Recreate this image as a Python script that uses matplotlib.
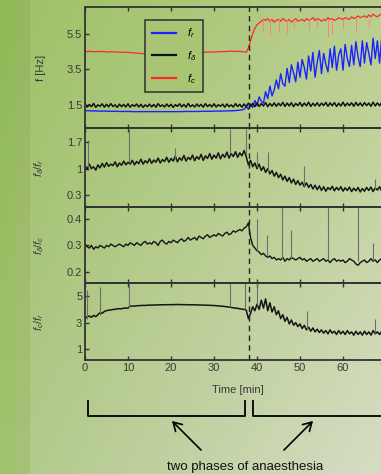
import numpy as np
import matplotlib
matplotlib.use("Agg")
import matplotlib.pyplot as plt
from matplotlib.lines import Line2D
from matplotlib.patches import FancyArrowPatch

plt.rcParams["font.family"] = ["Liberation Sans", "DejaVu Sans"]
plt.rcParams["mathtext.fontset"] = "custom"
plt.rcParams["mathtext.it"] = "Liberation Sans:italic"
plt.rcParams["mathtext.rm"] = "Liberation Sans"

# time grid, every 0.5 min
t = np.arange(0, 70, 0.5)
switch_time = 38.1

# panel 1: frequencies [Hz]
f_c = [4.50, 4.49, 4.51, 4.50, 4.48, 4.50, 4.49, 4.51, 4.50, 4.49,
       4.48, 4.47, 4.49, 4.48, 4.47, 4.46, 4.47, 4.46, 4.45, 4.46,
       4.45, 4.44, 4.43, 4.42, 4.41, 4.40, 4.39, 4.38, 4.37, 4.38,
       4.36, 4.35, 4.36, 4.34, 4.35, 4.33, 4.34, 4.35, 4.34, 4.36,
       4.35, 4.37, 4.36, 4.38, 4.39, 4.40, 4.41, 4.42, 4.41, 4.43,
       4.44, 4.43, 4.45, 4.44, 4.46, 4.45, 4.47, 4.46, 4.47, 4.48,
       4.47, 4.48, 4.49, 4.48, 4.50, 4.49, 4.51, 4.50, 4.52, 4.51,
       4.52, 4.50, 4.51, 4.49, 4.48, 4.45, 4.70, 5.10, 5.50, 5.80,
       6.00, 6.10, 6.20, 6.30, 6.25, 6.35, 6.20, 6.30, 6.15, 6.25,
       6.30, 6.20, 6.35, 6.25, 6.20, 6.30, 6.15, 6.25, 6.35, 6.20,
       6.25, 6.30, 6.20, 6.35, 6.25, 6.30, 6.40, 6.25, 6.35, 6.30,
       6.20, 6.30, 6.25, 6.40, 6.30, 6.35, 6.25, 6.30, 6.40, 6.35,
       6.30, 6.40, 6.35, 6.30, 6.45, 6.35, 6.40, 6.50, 6.40, 6.45,
       6.50, 6.40, 6.55, 6.45, 6.60, 6.50, 6.45, 6.55, 6.60, 6.50]
f_c_dips_t = [41.5, 43, 45, 47, 48.5, 52, 54, 56.5, 57.5, 60, 63, 66]
f_c_dips_min = [5.6, 5.4, 5.6, 5.5, 5.8, 5.7, 5.9, 5.3, 5.5, 5.8, 5.6, 5.9]

f_r = [1.18, 1.17, 1.17, 1.16, 1.16, 1.16, 1.15, 1.15, 1.15, 1.15,
       1.15, 1.14, 1.14, 1.14, 1.14, 1.14, 1.13, 1.13, 1.13, 1.13,
       1.13, 1.13, 1.12, 1.12, 1.12, 1.12, 1.12, 1.12, 1.12, 1.12,
       1.12, 1.12, 1.12, 1.12, 1.12, 1.12, 1.12, 1.12, 1.12, 1.12,
       1.12, 1.12, 1.12, 1.12, 1.12, 1.12, 1.13, 1.13, 1.13, 1.13,
       1.13, 1.13, 1.13, 1.13, 1.14, 1.14, 1.14, 1.14, 1.14, 1.14,
       1.15, 1.15, 1.15, 1.15, 1.15, 1.16, 1.16, 1.16, 1.17, 1.17,
       1.18, 1.19, 1.20, 1.22, 1.25, 1.40, 1.25, 1.55, 1.35, 1.75,
       1.45, 1.95, 1.70, 1.60, 2.25, 1.85, 2.55, 2.00, 2.35, 2.90,
       2.40, 3.25, 2.70, 2.55, 3.55, 2.75, 3.75, 3.30, 2.80, 3.90,
       3.05, 4.05, 3.60, 2.95, 4.25, 3.40, 4.45, 3.05, 3.90, 4.55,
       3.25, 4.40, 3.80, 3.35, 4.65, 3.60, 4.80, 3.45, 4.30, 4.65,
       3.45, 4.90, 4.10, 3.65, 4.85, 3.75, 5.05, 4.20, 3.65, 5.10,
       3.85, 5.00, 4.40, 3.75, 5.25, 4.10, 5.10, 3.85, 5.30, 4.60]

f_d = [1.55, 1.38, 1.52, 1.40, 1.58, 1.36, 1.50, 1.42, 1.56, 1.37,
       1.53, 1.39, 1.57, 1.41, 1.50, 1.36, 1.54, 1.40, 1.52, 1.38,
       1.56, 1.37, 1.51, 1.42, 1.55, 1.38, 1.53, 1.36, 1.50, 1.40,
       1.54, 1.39, 1.52, 1.37, 1.57, 1.41, 1.50, 1.38, 1.55, 1.40,
       1.53, 1.36, 1.51, 1.42, 1.56, 1.39, 1.52, 1.37, 1.58, 1.40,
       1.50, 1.38, 1.55, 1.41, 1.53, 1.37, 1.57, 1.40, 1.52, 1.39,
       1.56, 1.38, 1.51, 1.42, 1.54, 1.37, 1.55, 1.40, 1.50, 1.38,
       1.57, 1.41, 1.53, 1.37, 1.55, 1.39, 1.60, 1.42, 1.58, 1.40,
       1.62, 1.41, 1.57, 1.44, 1.63, 1.40, 1.58, 1.43, 1.61, 1.42,
       1.59, 1.45, 1.64, 1.41, 1.60, 1.44, 1.62, 1.40, 1.58, 1.46,
       1.63, 1.42, 1.60, 1.45, 1.65, 1.41, 1.59, 1.44, 1.62, 1.43,
       1.60, 1.46, 1.64, 1.42, 1.61, 1.45, 1.63, 1.41, 1.59, 1.44,
       1.65, 1.43, 1.60, 1.46, 1.62, 1.42, 1.64, 1.45, 1.61, 1.43,
       1.63, 1.46, 1.60, 1.42, 1.65, 1.44, 1.61, 1.45, 1.64, 1.43]

# panel 2: f_delta / f_r
ratio_dr = [1.08, 0.98, 1.12, 1.00, 1.05, 0.96, 1.10, 1.02, 1.14, 1.04,
            1.16, 1.06, 1.12, 1.08, 1.18, 1.05, 1.15, 1.09, 1.20, 1.10,
            1.17, 1.12, 1.22, 1.10, 1.19, 1.13, 1.25, 1.12, 1.21, 1.15,
            1.26, 1.14, 1.23, 1.17, 1.28, 1.15, 1.24, 1.19, 1.30, 1.17,
            1.27, 1.20, 1.33, 1.18, 1.29, 1.22, 1.35, 1.20, 1.30, 1.24,
            1.36, 1.21, 1.32, 1.25, 1.38, 1.22, 1.34, 1.27, 1.40, 1.25,
            1.36, 1.28, 1.42, 1.26, 1.38, 1.30, 1.44, 1.28, 1.40, 1.32,
            1.45, 1.30, 1.42, 1.34, 1.48, 1.32, 1.10, 1.22, 1.05, 1.15,
            1.00, 1.12, 0.95, 1.05, 0.90, 1.00, 0.86, 0.95, 0.80, 0.90,
            0.76, 0.85, 0.70, 0.80, 0.66, 0.76, 0.62, 0.72, 0.58, 0.68,
            0.56, 0.64, 0.52, 0.62, 0.50, 0.58, 0.46, 0.56, 0.44, 0.54,
            0.42, 0.52, 0.40, 0.50, 0.44, 0.53, 0.41, 0.50, 0.43, 0.52,
            0.40, 0.49, 0.42, 0.51, 0.39, 0.48, 0.41, 0.50, 0.38, 0.47,
            0.40, 0.50, 0.42, 0.51, 0.39, 0.49, 0.43, 0.52, 0.40, 0.48]
spk_dr_t = [0.7, 10.3, 21, 33.7, 37.4, 40, 42.5, 51, 67.5]
spk_dr_base = [1.05, 1.17, 1.25, 1.40, 1.40, 1.05, 0.95, 0.55, 0.45]
spk_dr_top = [1.75, 2.05, 1.55, 2.05, 2.05, 1.43, 1.45, 1.08, 0.73]

# panel 3: f_delta / f_c
ratio_dc = [0.305, 0.295, 0.29, 0.30, 0.285, 0.295, 0.29, 0.30, 0.295, 0.29,
            0.30, 0.295, 0.305, 0.30, 0.295, 0.30, 0.305, 0.30, 0.295, 0.305,
            0.30, 0.31, 0.305, 0.30, 0.31, 0.305, 0.30, 0.31, 0.315, 0.305,
            0.31, 0.305, 0.315, 0.31, 0.30, 0.315, 0.32, 0.31, 0.305, 0.315,
            0.31, 0.32, 0.315, 0.31, 0.32, 0.325, 0.315, 0.32, 0.33, 0.32,
            0.325, 0.33, 0.32, 0.335, 0.33, 0.325, 0.335, 0.34, 0.33, 0.335,
            0.34, 0.335, 0.345, 0.34, 0.335, 0.345, 0.35, 0.34, 0.345, 0.355,
            0.35, 0.355, 0.36, 0.355, 0.365, 0.37, 0.385, 0.33, 0.30, 0.29,
            0.28, 0.275, 0.265, 0.27, 0.26, 0.255, 0.26, 0.25, 0.255, 0.245,
            0.25, 0.245, 0.255, 0.24, 0.25, 0.245, 0.255, 0.25, 0.245, 0.25,
            0.255, 0.245, 0.25, 0.24, 0.245, 0.25, 0.24, 0.245, 0.25, 0.24,
            0.245, 0.25, 0.24, 0.245, 0.235, 0.245, 0.25, 0.24, 0.245, 0.24,
            0.245, 0.235, 0.24, 0.25, 0.245, 0.24, 0.23, 0.225, 0.235, 0.24,
            0.245, 0.235, 0.24, 0.25, 0.24, 0.245, 0.235, 0.245, 0.25, 0.24]
spk_dc_t = [40, 42.3, 45.8, 48, 56.5, 63.5, 67]
spk_dc_base = [0.28, 0.26, 0.25, 0.25, 0.245, 0.24, 0.24]
spk_dc_top = [0.40, 0.34, 0.445, 0.36, 0.445, 0.445, 0.31]

# panel 4: f_c / f_r
ratio_cr = [3.30, 3.45, 3.50, 3.40, 3.55, 3.45, 3.60, 3.75, 3.70, 3.85,
            3.90, 3.95, 3.95, 4.00, 4.00, 4.05, 4.05, 4.05, 4.10, 4.10,
            4.10, 4.25, 4.25, 4.25, 4.28, 4.28, 4.30, 4.30, 4.30, 4.32,
            4.32, 4.33, 4.33, 4.34, 4.34, 4.35, 4.35, 4.35, 4.36, 4.36,
            4.36, 4.36, 4.37, 4.37, 4.37, 4.36, 4.36, 4.36, 4.35, 4.35,
            4.35, 4.35, 4.34, 4.34, 4.33, 4.33, 4.32, 4.32, 4.31, 4.30,
            4.30, 4.28, 4.27, 4.25, 4.24, 4.22, 4.20, 4.18, 4.15, 4.12,
            4.10, 4.08, 4.05, 4.02, 4.00, 3.95, 3.30, 3.70, 4.20, 3.90,
            4.40, 4.00, 4.70, 4.10, 4.80, 3.90, 4.50, 3.80, 4.20, 3.60,
            3.90, 3.30, 3.60, 3.10, 3.40, 2.90, 3.20, 2.80, 3.00, 2.70,
            2.90, 2.55, 2.80, 2.45, 2.65, 2.35, 2.60, 2.30, 2.50, 2.25,
            2.45, 2.20, 2.40, 2.15, 2.45, 2.20, 2.35, 2.10, 2.40, 2.15,
            2.35, 2.10, 2.40, 2.15, 2.30, 2.05, 2.35, 2.10, 2.30, 2.05,
            2.35, 2.10, 2.30, 2.05, 2.40, 2.15, 2.30, 2.10, 2.35, 2.15]
spk_cr_t = [0.5, 3.6, 10.3, 33.7, 37.2, 40, 51.6, 67.5]
spk_cr_base = [3.3, 3.6, 4.1, 4.2, 4.0, 4.3, 2.5, 2.2]
spk_cr_top = [5.5, 5.7, 6.0, 6.0, 6.0, 6.0, 3.9, 3.3]

W, H = 381, 474
fig = plt.figure(figsize=(W / 100, H / 100), dpi=100)

# slide background: green gradient with darker strips on the left
bg = fig.add_axes([0, 0, 1, 1], zorder=-10)
xx = np.linspace(0, 1, W)[None, :, None]
yy = np.linspace(0, 1, H)[:, None, None]
tl = np.array([157, 192, 100]) / 255
tr = np.array([186, 207, 142]) / 255
bl = np.array([176, 200, 136]) / 255
br = np.array([214, 221, 196]) / 255
img = (tl * (1 - xx) * (1 - yy) + tr * xx * (1 - yy)
       + bl * (1 - xx) * yy + br * xx * yy)
strip1 = np.array([143, 186, 85]) / 255
strip1b = np.array([160, 196, 110]) / 255
strip2 = np.array([151, 182, 96]) / 255
strip2b = np.array([168, 193, 120]) / 255
ycol = np.linspace(0, 1, H)[:, None, None]
img[:, :14] = strip1 * (1 - ycol) + strip1b * ycol
img[:, 14:30] = strip2 * (1 - ycol) + strip2b * ycol
bg.imshow(img, aspect="auto", extent=[0, W, H, 0])
bg.set_xlim(0, W)
bg.set_ylim(H, 0)
bg.axis("off")

# axes layout in pixels (top, bottom)
left_px, px_per_min = 85, 4.3
xmax = 75
panels_px = [(7, 128), (128, 207), (207, 283), (283, 360)]
axes = []
for top, bot in panels_px:
    ax = fig.add_axes([left_px / W, 1 - bot / H, xmax * px_per_min / W, (bot - top) / H])
    ax.set_facecolor("none")
    ax.set_xlim(0, xmax)
    ax.set_xticks(np.arange(0, 80, 10))
    ax.tick_params(direction="in", length=3, width=1, color="#333333",
                   labelsize=8, labelcolor="#3a3a3a", pad=2, top=True, right=True)
    for s in ax.spines.values():
        s.set_color("#333333")
        s.set_linewidth(1.3)
    ax.axvline(switch_time, color="#222222", lw=1.0, dashes=(4, 3), zorder=5)
    axes.append(ax)

ax1, ax2, ax3, ax4 = axes
gray = "#6e6e6e"

ax1.plot(t, f_r, color="#1a22ff", lw=1.0, label="$f_r$")
ax1.plot(t, f_d, color="#101010", lw=1.1, label=r"$f_\delta$")
ax1.plot(t, f_c, color="#ff2a2a", lw=0.9, label="$f_c$")
ax1.vlines(f_c_dips_t, f_c_dips_min, 6.3, color="#ff8080", lw=0.7)
ax1.set_ylim(0.2, 7.0)
ax1.set_yticks([1.5, 3.5, 5.5])
ax1.set_yticklabels(["1.5", "3.5", "5.5"])
ax1.set_ylabel("f [Hz]", fontsize=8, color="#3a3a3a")
leg = ax1.legend(loc="upper left", bbox_to_anchor=(0.186, 0.893), borderaxespad=0,
                 fontsize=8, handlelength=2.2, labelspacing=0.8, fancybox=False,
                 framealpha=1, facecolor="#a9c573", edgecolor="#3a3a3a",
                 borderpad=0.6, handletextpad=1.0)
leg.get_frame().set_linewidth(1.2)
for h in leg.get_lines():
    h.set_linewidth(1.6)
leg.set_zorder(10)

ax2.plot(t, ratio_dr, color="#151515", lw=1.1)
ax2.vlines(spk_dr_t, spk_dr_base, spk_dr_top, color=gray, lw=0.8)
ax2.set_ylim(-0.02, 2.08)
ax2.set_yticks([0.3, 1, 1.7])
ax2.set_yticklabels(["0.3", "1", "1.7"])
ax2.set_ylabel(r"$f_\delta/f_r$", fontsize=8, color="#3a3a3a")

ax3.plot(t, ratio_dc, color="#151515", lw=1.0)
ax3.vlines(spk_dc_t, spk_dc_base, spk_dc_top, color=gray, lw=0.8)
ax3.set_ylim(0.158, 0.445)
ax3.set_yticks([0.2, 0.3, 0.4])
ax3.set_yticklabels(["0.2", "0.3", "0.4"])
ax3.set_ylabel(r"$f_\delta/f_c$", fontsize=8, color="#3a3a3a")

ax4.plot(t, ratio_cr, color="#151515", lw=1.1)
ax4.vlines(spk_cr_t, spk_cr_base, spk_cr_top, color=gray, lw=0.8)
ax4.set_ylim(0.17, 6.0)
ax4.set_yticks([1, 3, 5])
ax4.set_ylabel(r"$f_c/f_r$", fontsize=8, color="#3a3a3a")

for ax in (ax1, ax2, ax3):
    ax.tick_params(labelbottom=False)
for ax in axes:
    ax.yaxis.set_label_coords(-0.12, 0.5)

ax4.set_xlabel("Time [min]", fontsize=8, color="#3a3a3a", labelpad=3)
ax4.xaxis.set_label_coords((238 - left_px) / (xmax * px_per_min), -0.32)

# brackets marking the two phases, with arrows and caption
def fig_line(xs, ys, **kw):
    fig.add_artist(Line2D([x / W for x in xs], [1 - y / H for y in ys],
                          transform=fig.transFigure, color="black", lw=1.3, **kw))

fig_line([88, 88, 245, 245], [401, 416, 416, 401])
fig_line([253, 253, 385], [401, 416, 416])

arrow_kw = dict(arrowstyle="->,head_length=0.6,head_width=0.35", color="black", lw=1.2)
fig.add_artist(FancyArrowPatch((203 / W, 1 - 452 / H), (170 / W, 1 - 419 / H),
                               transform=fig.transFigure, mutation_scale=10, **arrow_kw))
fig.add_artist(FancyArrowPatch((282 / W, 1 - 452 / H), (315 / W, 1 - 419 / H),
                               transform=fig.transFigure, mutation_scale=10, **arrow_kw))
fig.text(245 / W, 1 - 467 / H, "two phases of anaesthesia", ha="center", va="center",
         fontsize=9.5, color="#111111")

fig.savefig("out.png", dpi=100)
